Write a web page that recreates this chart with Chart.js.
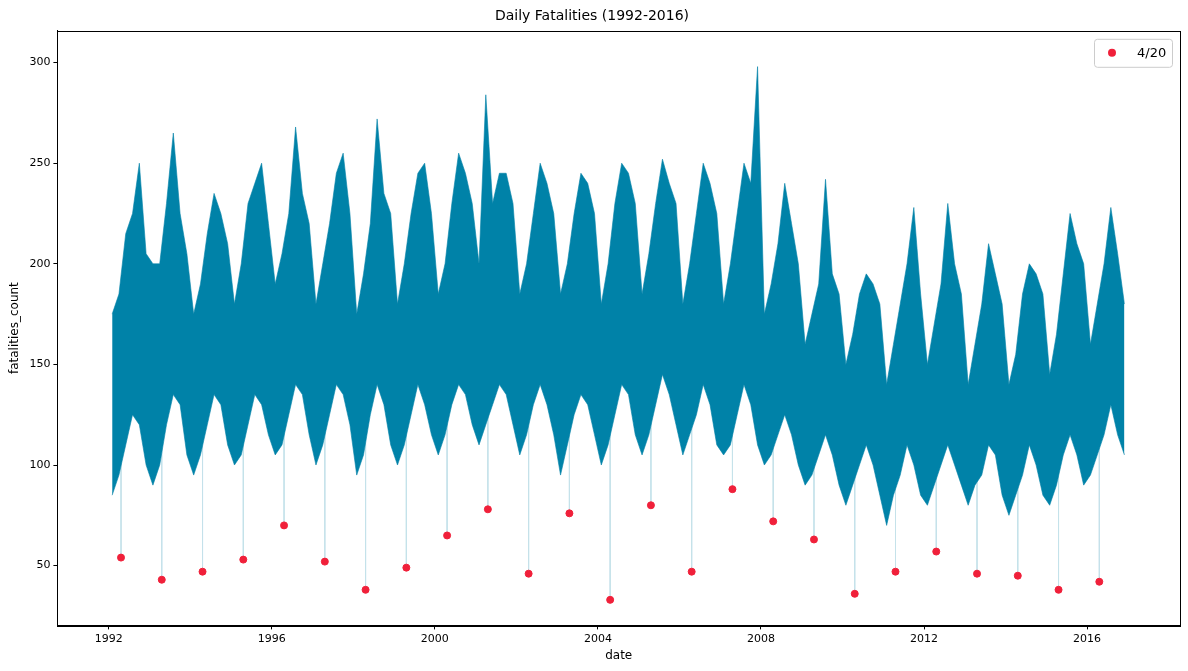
<!DOCTYPE html>
<html><head><meta charset="utf-8">
<script src="https://cdn.jsdelivr.net/npm/chart.js@4"></script>
<style>body{margin:0;background:#fff}#w{width:1188px;height:671px}</style>
</head><body><div id="w"><canvas id="c"></canvas></div>
<script>
const years=[1992,1993,1994,1995,1996,1997,1998,1999,2000,2001,2002,2003,2004,2005,2006,2007,2008,2009,2010,2011,2012,2013,2014,2015,2016];
// bimonthly envelope (Jan,Mar,May,Jul,Sep,Nov)
const hiVals=[
[175,185,215,225,250,205],[200,200,230,265,225,205],[175,190,215,235,225,210],[180,200,230,240,250,220],
[190,205,225,268,235,220],[180,200,220,245,255,225],[175,195,220,272,235,225],[180,200,225,245,250,225],
[185,200,230,255,245,230],[200,284,230,245,245,230],[185,200,225,250,240,225],[185,200,225,245,240,225],
[180,200,230,250,245,230],[185,205,230,252,240,230],[180,200,225,250,240,225],[180,200,225,250,240,298],
[175,190,210,240,220,200],[160,175,190,242,195,185],[150,165,185,195,190,180],[140,160,180,200,228,185],
[150,170,190,230,200,185],[140,160,180,210,195,180],[140,155,185,200,195,185],[145,165,195,225,210,200],[160,180,200,228,205,180]];
const loVals=[
[85,95,110,125,120,100],[90,100,120,135,130,105],[95,105,120,135,130,110],[100,105,120,135,130,115],
[105,110,125,140,135,115],[100,110,125,140,135,120],[95,105,125,140,130,110],[100,110,125,140,130,115],
[105,115,130,140,135,120],[110,120,130,140,135,120],[105,115,130,140,130,115],[95,110,125,135,130,115],
[100,110,125,140,135,115],[105,115,130,145,135,120],[105,115,125,140,130,110],[105,110,125,140,130,110],
[100,105,115,125,115,100],[90,95,105,115,105,90],[80,90,100,110,100,85],[70,85,95,110,100,85],
[80,90,100,110,100,90],[80,90,95,110,105,85],[75,85,95,110,100,85],[80,90,105,115,105,90],[95,105,115,130,115,105]];
const dotVals=[54,43,47,53,70,52,38,49,65,78,46,76,33,80,47,88,72,63,36,47,57,46,45,38,42];
const yTicks=[50,100,150,200,250,300];

const hi=[],lo=[];
years.forEach((y,i)=>{for(let k=0;k<6;k++){const x=y+k/6+1/12;hi.push({x,y:hiVals[i][k]});lo.push({x,y:loVals[i][k]});}});
const dots=years.map((y,i)=>({x:y+110/366,y:dotVals[i]}));
const drops=[];
years.forEach((y,i)=>{const x=y+110/366;drops.push({x,y:loVals[i][1]+20},{x,y:dotVals[i]},{x,y:null});});

const framePlugin={id:'fr',afterDraw(ch){const c=ch.ctx,a=ch.chartArea;c.save();c.strokeStyle='#000';c.lineWidth=1;
c.strokeRect(Math.round(a.left)+0.5,Math.round(a.top)+0.5,Math.round(a.right-a.left),Math.round(a.bottom-a.top));c.restore();}};
const legendPlugin={id:'lg',afterDraw(ch){const c=ch.ctx,a=ch.chartArea;const w=78,h=28,x=a.right-w-8,y=a.top+8;
c.save();c.fillStyle='rgba(255,255,255,0.8)';c.strokeStyle='#cccccc';c.lineWidth=1;
c.beginPath();c.roundRect(x+0.5,y+0.5,w,h,3);c.fill();c.stroke();
c.fillStyle='#f0203a';c.beginPath();c.arc(x+18,y+h/2,4,0,Math.PI*2);c.fill();
c.fillStyle='#000';c.font='13px "DejaVu Sans"';c.textBaseline='middle';c.fillText('4/20',x+43,y+h/2+1);c.restore();}};

const tickGrid={display:true,drawOnChartArea:false,drawTicks:true,tickLength:4,color:'#000'};
new Chart(document.getElementById('c'),{
 type:'line',
 data:{datasets:[
  {data:hi,borderColor:'#0082a8',borderWidth:0.6,backgroundColor:'#0082a8',fill:'+1',pointRadius:0,order:2},
  {data:lo,borderColor:'#0082a8',borderWidth:0.6,pointRadius:0,fill:false,order:2},
  {data:drops,borderColor:'#c5e2ea',borderWidth:1,pointRadius:0,spanGaps:false,fill:false,order:3},
  {type:'scatter',data:dots,backgroundColor:'#f0203a',borderColor:'#f0203a',pointRadius:3.5,order:1}
 ]},
 options:{responsive:true,maintainAspectRatio:false,animation:false,
  layout:{padding:{left:4,right:8,top:2,bottom:4}},
  plugins:{legend:{display:false},tooltip:{enabled:false},
   title:{display:true,text:'Daily Fatalities (1992-2016)',color:'#000',font:{family:'DejaVu Sans',size:14,weight:'normal'},padding:{top:6,bottom:6}}},
  scales:{
   x:{type:'linear',min:1990.74,max:2018.28,grid:tickGrid,border:{color:'#000'},
    afterBuildTicks(ax){ax.ticks=years.filter(y=>y%4===0).map(v=>({value:v}));},
    ticks:{color:'#000',font:{family:'DejaVu Sans',size:11},callback:v=>String(v),maxRotation:0},
    title:{display:true,text:'date',color:'#000',font:{family:'DejaVu Sans',size:12},padding:{top:0}}},
   y:{min:20.3,max:315.8,grid:tickGrid,border:{color:'#000'},
    afterBuildTicks(ax){ax.ticks=yTicks.map(v=>({value:v}));},
    ticks:{color:'#000',font:{family:'DejaVu Sans',size:11}},
    title:{display:true,text:'fatalities_count',color:'#000',font:{family:'DejaVu Sans',size:12}}}
  }},
 plugins:[framePlugin,legendPlugin]
});
</script></body></html>
